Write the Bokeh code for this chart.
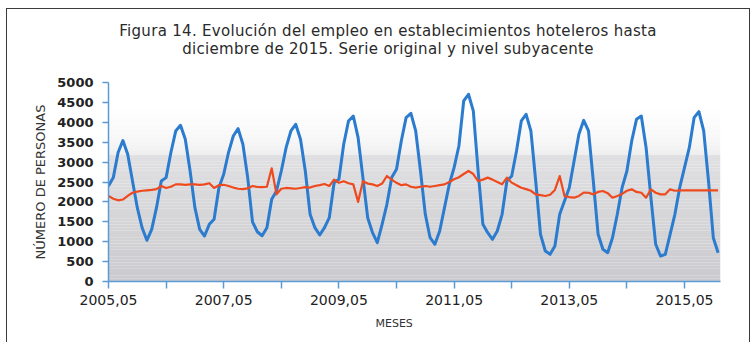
from bokeh.plotting import figure
from bokeh.models import Range1d, FixedTicker, BoxAnnotation, Title, Div
from bokeh.layouts import column
from bokeh.embed import file_html
from bokeh.resources import INLINE

# ---- data (monthly, May 2005 .. Dec 2015) ----
serie_original = [
    2400, 2610, 3240, 3540, 3200, 2525, 1855, 1350, 1035, 1310, 1855, 2525,
    2610, 3240, 3780, 3925, 3573, 2777, 1855, 1310, 1143, 1437, 1563, 2357,
    2694, 3240, 3656, 3840, 3448, 2610, 1500, 1250, 1150, 1352, 2065, 2274,
    2777, 3362, 3782, 3950, 3573, 2777, 1688, 1352, 1168, 1352, 1603, 2483,
    2568, 3448, 4033, 4159, 3614, 2610, 1603, 1227, 975, 1437, 1940, 2610,
    2820, 3530, 4117, 4226, 3782, 2777, 1688, 1100, 935, 1269, 1855, 2443,
    2860, 3405, 4536, 4704, 4285, 2777, 1437, 1227, 1060, 1269, 1688, 2525,
    2651, 3280, 4033, 4201, 3782, 2525, 1186, 766, 683, 892, 1688, 2023,
    2357, 3028, 3699, 4050, 3782, 2525, 1186, 809, 724, 1100, 1688, 2357,
    2777, 3530, 4075, 4159, 3362, 2106, 935, 641, 683, 1186, 1688, 2357,
    2860, 3362, 4117, 4268, 3782, 2525, 1100, 724,
]
nivel_subyacente = [
    2149, 2080, 2040, 2060, 2150, 2230, 2260, 2280, 2290, 2300, 2320, 2400,
    2350, 2380, 2440, 2440, 2430, 2440, 2440, 2430, 2440, 2470, 2350, 2420,
    2430, 2400, 2360, 2330, 2320, 2340, 2400, 2375, 2370, 2380, 2845, 2190,
    2330, 2350, 2340, 2330, 2350, 2370, 2360, 2400, 2420, 2450, 2400, 2560,
    2480, 2520, 2470, 2440, 2000, 2520, 2460, 2440, 2400, 2460, 2650, 2560,
    2480, 2420, 2440, 2380, 2357, 2380, 2400, 2380, 2400, 2420, 2440, 2500,
    2568, 2620, 2700, 2777, 2700, 2525, 2560, 2610, 2560, 2500, 2442, 2610,
    2484, 2420, 2357, 2320, 2280, 2190, 2170, 2148, 2180, 2300, 2650, 2148,
    2120, 2106, 2150, 2232, 2230, 2190, 2250, 2274, 2220, 2106, 2150, 2200,
    2280, 2316, 2250, 2230, 2106, 2316, 2230, 2190, 2190, 2316, 2280, 2290,
    2290, 2290, 2290, 2290, 2290, 2290, 2290, 2290,
]
x_tick_labels = ["2005,05", "2007,05", "2009,05", "2011,05", "2013,05", "2015,05"]
y_ticks = [0, 500, 1000, 1500, 2000, 2500, 3000, 3500, 4000, 4500, 5000]
title_lines = [
    "Figura 14. Evolución del empleo en establecimientos hoteleros hasta",
    "diciembre de 2015. Serie original y nivel subyacente",
]
x_title = "MESES"
y_title = "NÚMERO DE PERSONAS"

months = list(range(len(serie_original)))

FONT = "DejaVu Sans"
BLUE = "#2b7bcf"
ORANGE = "#ee4a1e"
AXIS = "#5b9bd5"

# ---- title block ----
title_div = Div(
    text=(
        '<div style="margin-left:22px;width:720px;text-align:center;'
        'font-family:\'DejaVu Sans\';font-size:15px;line-height:18px;'
        'letter-spacing:0.3px;color:#2a2a2a;padding-top:14px;white-space:nowrap;">'
        + title_lines[0] + "<br>" + title_lines[1] + "</div>"
    ),
    width=744, height=60, margin=0,
)

# ---- chart ----
p = figure(width=744, height=274, output_backend="svg", toolbar_location=None,
           x_range=Range1d(0, 127.5), y_range=Range1d(0, 5000),
           min_border_left=102, min_border_right=30, min_border_top=14,
           min_border_bottom=61, title=None, margin=0)
p.background_fill_color = "white"
p.border_fill_color = None
p.outline_line_color = None
p.grid.visible = False


def lerp(a, b, t):
    return a + (b - a) * t


edge = 3180.0
n_low = 40
for k in range(n_low):
    y0 = edge * k / n_low
    y1 = edge * (k + 1) / n_low
    t = (k + 0.5) / n_low
    r = int(round(lerp(203, 224, t)))
    b = int(round(lerp(207, 226, t)))
    p.add_layout(BoxAnnotation(bottom=y0, top=y1, fill_color=(r, r, b),
                               fill_alpha=1, line_color=None, level="underlay"))
n_up = 24
top_fade = 4400.0
for k in range(n_up):
    y0 = edge + (top_fade - edge) * k / n_up
    y1 = edge + (top_fade - edge) * (k + 1) / n_up
    t = ((k + 0.5) / n_up) ** 0.7
    r = int(round(lerp(238, 255, t)))
    p.add_layout(BoxAnnotation(bottom=y0, top=y1, fill_color=(r, r, min(255, r + 1)),
                               fill_alpha=1, line_color=None, level="underlay"))

p.line(months, serie_original, line_color=BLUE, line_width=3, line_join="round")
p.line(months, nivel_subyacente, line_color=ORANGE, line_width=2.2, line_join="round")

# axes
tick_pos = list(range(0, len(serie_original), 12))
overrides = {}
for j, tp in enumerate(tick_pos):
    overrides[tp] = x_tick_labels[j // 2] if j % 2 == 0 else ""
p.xaxis.ticker = FixedTicker(ticks=tick_pos)
p.xaxis.major_label_overrides = overrides
p.yaxis.ticker = FixedTicker(ticks=y_ticks)

for ax in (p.xaxis[0], p.yaxis[0]):
    ax.axis_line_color = AXIS
    ax.axis_line_width = 1.5
    ax.major_tick_line_color = AXIS
    ax.major_tick_line_width = 1.5
    ax.minor_tick_line_color = None
    ax.major_tick_in = 0
    ax.major_label_text_font = FONT
    ax.major_label_text_color = "#222222"
    ax.axis_label_text_font = FONT
    ax.axis_label_text_font_style = "normal"
    ax.axis_label_text_color = "#333333"

p.xaxis.major_tick_out = 7
p.xaxis.major_label_standoff = 6
p.xaxis.major_label_text_font_size = "14px"
p.yaxis.major_tick_out = 6
p.yaxis.major_label_standoff = 9
p.yaxis.major_label_text_font_size = "13px"
p.yaxis.major_label_text_font_style = "bold"
p.yaxis.axis_label = y_title
p.yaxis.axis_label_text_font_size = "13px"
p.yaxis.axis_label_standoff = 6

p.add_layout(Title(text=x_title, align="left", offset=267, vertical_align="top",
                   standoff=18, text_font=FONT, text_font_size="11px",
                   text_font_style="normal", text_color="#333333"), "below")

layout = column(title_div, p, margin=(8, 0, 0, 6), spacing=0,
                styles={"box-shadow": "inset 1px 1px 0 #3a3a3a, inset -1px 0 0 #3a3a3a"})

open("out.html", "w").write(file_html(layout, INLINE))
